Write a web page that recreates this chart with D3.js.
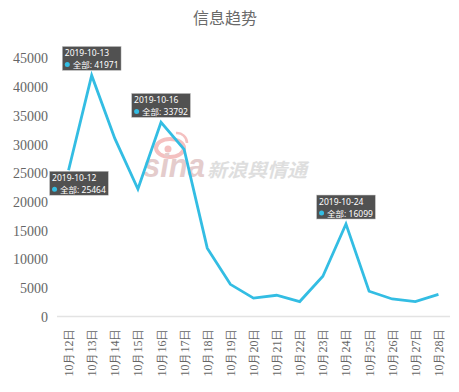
<!DOCTYPE html>
<html>
<head>
<meta charset="utf-8">
<script src="https://cdn.jsdelivr.net/npm/d3@7"></script>
<style>
  html, body { margin: 0; padding: 0; background: #fff; }
  svg { display: block; }
</style>
</head>
<body>
<svg id="chart" width="459" height="392"></svg>
<script>
const title = "信息趋势";
const categories = ["10月12日","10月13日","10月14日","10月15日","10月16日","10月17日","10月18日","10月19日","10月20日","10月21日","10月22日","10月23日","10月24日","10月25日","10月26日","10月27日","10月28日"];
const dates = ["2019-10-12","2019-10-13","2019-10-14","2019-10-15","2019-10-16","2019-10-17","2019-10-18","2019-10-19","2019-10-20","2019-10-21","2019-10-22","2019-10-23","2019-10-24","2019-10-25","2019-10-26","2019-10-27","2019-10-28"];
const seriesName = "全部";
const values = [25464, 41971, 31000, 22200, 33792, 29100, 11900, 5600, 3200, 3700, 2600, 7000, 16099, 4400, 3050, 2600, 3850];
const yTicks = [0, 5000, 10000, 15000, 20000, 25000, 30000, 35000, 40000, 45000];
const tooltipIdx = [0, 1, 4, 12];

(function () {
const plotL = 57, plotR = 450, plotT = 58, plotB = 316.5;
const lineColor = "#33bde3";
const serif = "'Liberation Serif', 'Times New Roman', 'DejaVu Serif', serif";
const svg = d3.select("#chart");

const x = d3.scalePoint().domain(categories).range([plotL, plotR]).padding(0.5);
const y = d3.scaleLinear().domain([0, 45000]).range([plotB, plotT]);

// title
svg.append("text").attr("x", 225).attr("y", 24)
  .attr("text-anchor", "middle")
  .attr("font-family", "'Noto Sans CJK SC', sans-serif")
  .attr("font-size", 16).attr("fill", "#6a6a6a").text(title);

// watermark
const wm = svg.append("g");
wm.append("ellipse").attr("cx", 170).attr("cy", 148).attr("rx", 14).attr("ry", 9)
  .attr("fill", "none").attr("stroke", "#f4c0c0").attr("stroke-width", 4);
wm.append("circle").attr("cx", 168).attr("cy", 149).attr("r", 3.5).attr("fill", "#f4c0c0");
wm.append("path").attr("d", "M176 133 A 10 10 0 0 1 187 143").attr("fill", "none")
  .attr("stroke", "#f4c0c0").attr("stroke-width", 2.5);
wm.append("text").attr("x", 143).attr("y", 177)
  .attr("font-family", "Arial, 'Liberation Sans', sans-serif")
  .attr("font-style", "italic").attr("font-weight", "bold")
  .attr("font-size", 34).attr("textLength", 62).attr("lengthAdjust", "spacingAndGlyphs")
  .attr("fill", "#e4cccc").text("sina");
wm.append("text").attr("x", 207).attr("y", 177)
  .attr("font-family", "'Noto Sans CJK SC', sans-serif")
  .attr("font-style", "italic").attr("font-weight", "bold")
  .attr("font-size", 19).attr("textLength", 100).attr("lengthAdjust", "spacingAndGlyphs")
  .attr("fill", "#dedede").text("新浪舆情通");

// y axis labels
const yAxis = d3.axisLeft(y).tickValues(yTicks).tickSize(0).tickPadding(0).tickFormat(d3.format("d"));
const ga = svg.append("g").attr("transform", `translate(48,0)`).call(yAxis)
  .attr("font-family", serif).attr("font-size", 14);
ga.select(".domain").remove();
ga.selectAll("text").attr("font-family", serif).attr("font-size", 14)
  .attr("fill", "#666").attr("dy", "0.35em");

// x axis line
svg.append("line").attr("x1", plotL).attr("x2", plotR).attr("y1", y(0)).attr("y2", y(0))
  .attr("stroke", "#e3e3e3").attr("stroke-width", 1.5);

// x labels
const xAxis = d3.axisBottom(x).tickSize(0).tickPadding(0);
const gx = svg.append("g").attr("transform", `translate(0,${y(0)})`).call(xAxis)
  .attr("font-family", serif).attr("font-size", 12);
gx.select(".domain").remove();
gx.selectAll("text")
  .attr("font-family", serif)
  .attr("font-size", 12).attr("fill", "#666")
  .attr("text-anchor", "end").attr("dy", null).attr("y", 0)
  .attr("dominant-baseline", "central")
  .attr("transform", "translate(0,12) rotate(-90)");

// line
const line = d3.line().x((d, i) => x(categories[i])).y(d => y(d));
svg.append("path").datum(values).attr("d", line)
  .attr("fill", "none").attr("stroke", lineColor).attr("stroke-width", 2.8)
  .attr("stroke-linejoin", "miter");

// tooltips
tooltipIdx.forEach((i, k) => {
  const px = x(categories[i]), py = y(values[i]);
  const g = svg.append("g");
  const rect = g.append("rect").attr("fill", "rgba(50,50,50,0.85)").attr("stroke", "#ccc").attr("stroke-width", 0.5);
  const t1 = g.append("text").attr("font-family", "'Noto Sans', 'Noto Sans CJK SC', sans-serif")
    .attr("font-size", 8.5).attr("fill", "#fff").text(dates[i]);
  const t2 = g.append("text").attr("font-family", "'Noto Sans', 'Noto Sans CJK SC', sans-serif")
    .attr("font-size", 8.5).attr("fill", "#fff").text(`${seriesName}: ${values[i]}`);
  const w1 = t1.node().getComputedTextLength();
  const w2 = t2.node().getComputedTextLength() + 8;
  const bw = Math.max(w1, w2) + 5, bh = 24;
  let bx, by;
  if (k === 0) { bx = px - 19; by = py + 1; }
  else { bx = px - bw / 2; by = py - 5 - bh; }
  rect.attr("x", bx).attr("y", by).attr("width", bw).attr("height", bh);
  t1.attr("x", bx + 2.5).attr("y", by + 9.5);
  g.append("circle").attr("cx", bx + 5).attr("cy", by + 18).attr("r", 2.5).attr("fill", lineColor);
  t2.attr("x", bx + 10.5).attr("y", by + 21.5);
});
})();
</script>
</body>
</html>
